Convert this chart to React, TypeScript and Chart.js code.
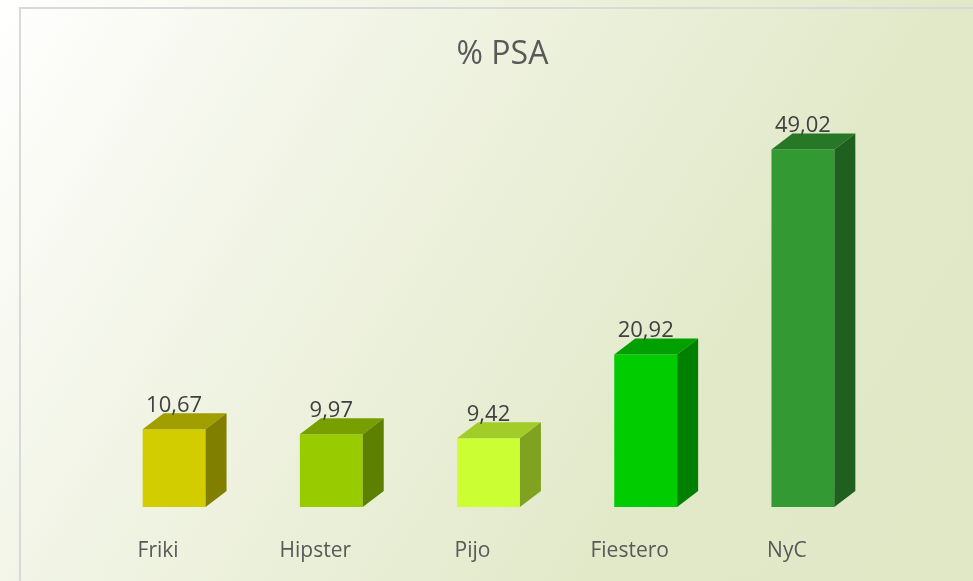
import React, { useEffect, useRef } from "react";
import { Chart, registerables } from "chart.js";

Chart.register(...registerables);

const title = "% PSA";
const categories = ["Friki", "Hipster", "Pijo", "Fiestero", "NyC"];
const values = [10.67, 9.97, 9.42, 20.92, 49.02];
const valueLabels = ["10,67", "9,97", "9,42", "20,92", "49,02"];
const frontColors = ["#d1cd00", "#99cc00", "#ccff33", "#00cc00", "#339933"];
const topColors = ["#a09e00", "#779f00", "#a2cc28", "#00a000", "#267726"];
const sideColors = ["#807f00", "#5e8000", "#7fa31f", "#008000", "#1f5f1f"];

const DX = 21;
const DY = 16;

const bgPlugin = {
  id: "bg",
  beforeDraw(chart: any) {
    const { ctx, width, height } = chart;
    ctx.save();
    const g = ctx.createLinearGradient(0, 0, width, 600);
    g.addColorStop(0, "#ffffff");
    g.addColorStop(0.27, "#f2f5e7");
    g.addColorStop(0.7, "#e2e9c9");
    g.addColorStop(1, "#e0e8c6");
    ctx.fillStyle = g;
    ctx.fillRect(0, 0, width, height);
    ctx.strokeStyle = "#d9d9d9";
    ctx.lineWidth = 2;
    ctx.beginPath();
    ctx.moveTo(20, height + 5);
    ctx.lineTo(20, 8);
    ctx.lineTo(width + 5, 8);
    ctx.stroke();
    ctx.fillStyle = "#595959";
    ctx.font = "32px 'Open Sans'";
    ctx.textAlign = "center";
    ctx.textBaseline = "alphabetic";
    ctx.fillText(title, 502.5, 64);
    ctx.restore();
  },
};

const bar3dPlugin = {
  id: "bar3d",
  afterDatasetsDraw(chart: any) {
    const { ctx } = chart;
    const meta = chart.getDatasetMeta(0);
    const xScale = chart.scales.x;
    ctx.save();
    meta.data.forEach((bar: any, i: number) => {
      const { x, y, base, width } = bar.getProps(["x", "y", "base", "width"], true);
      const L = x - width / 2;
      const R = x + width / 2;
      ctx.fillStyle = topColors[i];
      ctx.beginPath();
      ctx.moveTo(L, y);
      ctx.lineTo(L + DX, y - DY);
      ctx.lineTo(R + DX, y - DY);
      ctx.lineTo(R, y);
      ctx.closePath();
      ctx.fill();
      ctx.fillStyle = sideColors[i];
      ctx.beginPath();
      ctx.moveTo(R, y);
      ctx.lineTo(R + DX, y - DY);
      ctx.lineTo(R + DX, base - DY);
      ctx.lineTo(R, base);
      ctx.closePath();
      ctx.fill();
      ctx.textAlign = "center";
      ctx.textBaseline = "alphabetic";
      ctx.fillStyle = "#404040";
      ctx.font = "22px 'Open Sans'";
      ctx.fillText(valueLabels[i], x, y - DY - 1);
      ctx.fillStyle = "#595959";
      ctx.font = "21px 'Open Sans'";
      ctx.fillText(categories[i], xScale.getPixelForValue(i) - 16, 557);
    });
    ctx.restore();
  },
};

export default function App() {
  const ref = useRef<HTMLCanvasElement | null>(null);
  useEffect(() => {
    if (!ref.current) return;
    const chart = new Chart(ref.current, {
      type: "bar",
      data: {
        labels: categories,
        datasets: [
          {
            data: values,
            backgroundColor: frontColors,
            borderWidth: 0,
            barPercentage: 0.4,
            categoryPercentage: 1,
          },
        ],
      },
      options: {
        animation: false,
        responsive: false,
        layout: { padding: { left: 95.5, right: 91.5, top: 91.2, bottom: 74 } },
        plugins: {
          legend: { display: false },
          tooltip: { enabled: false },
          title: { display: false },
        },
        scales: {
          x: { display: false },
          y: { display: false, min: 0, max: 57 },
        },
      },
      plugins: [bgPlugin, bar3dPlugin],
    });
    return () => chart.destroy();
  }, []);
  return (
    <div style={{ position: "fixed", left: 0, top: 0, width: 973, height: 581 }}>
      <canvas ref={ref} width={973} height={581} style={{ display: "block" }} />
    </div>
  );
}
